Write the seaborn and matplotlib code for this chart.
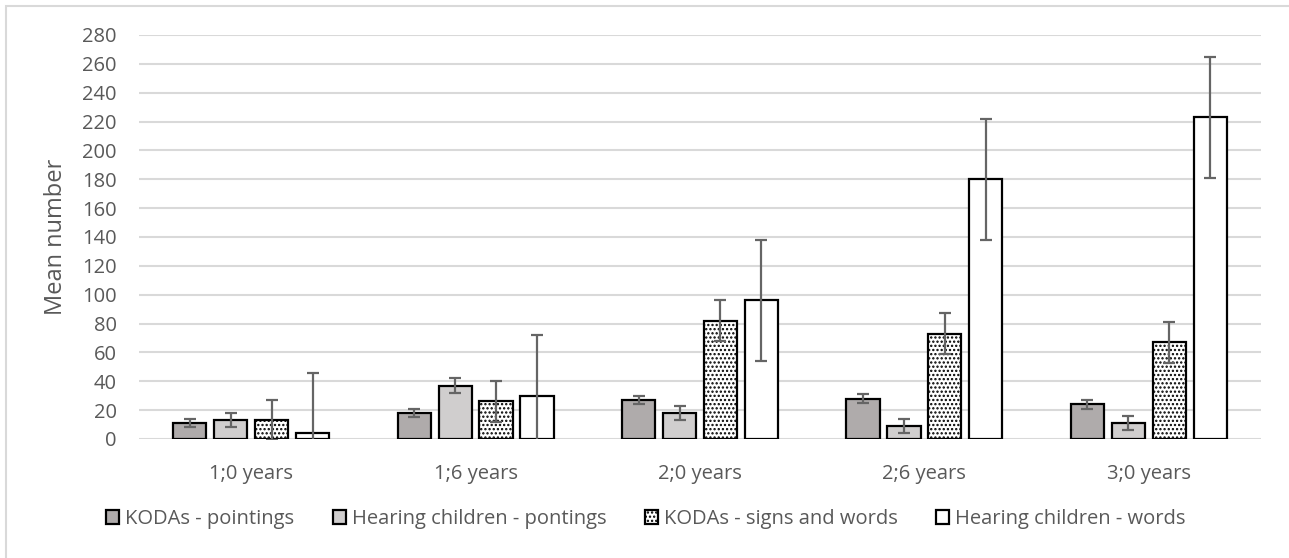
import matplotlib
matplotlib.use("Agg")
import matplotlib.pyplot as plt
import seaborn as sns
import pandas as pd
import numpy as np

categories = ["1;0 years", "1;6 years", "2;0 years", "2;6 years", "3;0 years"]
series = ["KODAs - pointings", "Hearing children - pontings",
          "KODAs - signs and words", "Hearing children - words"]
koda_point = [11, 18, 27, 28, 24]
hear_point = [13, 37, 18, 9, 11]
koda_signs = [13, 26, 82, 73, 67]
hear_words = [4, 30, 96, 180, 223]
errors = [3, 5, 14, 42]
y_ticks = list(range(0, 281, 20))

values = [koda_point, hear_point, koda_signs, hear_words]
rows = []
for s, vals in zip(series, values):
    for c, v in zip(categories, vals):
        rows.append({"age": c, "series": s, "value": v})
df = pd.DataFrame(rows)

sns.set_theme(style="white")
plt.rcParams["font.family"] = ["Open Sans", "DejaVu Sans"]
plt.rcParams["hatch.linewidth"] = 1.1
plt.rcParams["hatch.color"] = "black"

fills = ["#AFABAB", "#D0CECE", "#FFFFFF", "#FFFFFF"]
text_col = "#595959"
HATCH = "...."

fig = plt.figure(figsize=(12.89, 5.58), dpi=100)
ax = fig.add_axes([139/1289, 1 - 439/558, 1122/1289, 404/558])

sns.barplot(data=df, x="age", y="value", hue="series", order=categories,
            hue_order=series, palette=fills, width=0.73, gap=0.19,
            edgecolor="black", linewidth=1.6, errorbar=None, ax=ax,
            saturation=1, zorder=3)

bar_containers = list(ax.containers)
for i, cont in enumerate(bar_containers):
    for j, p in enumerate(cont.patches):
        if i == 2:
            p.set_hatch(HATCH)
        xc = p.get_x() + p.get_width() / 2
        ax.errorbar(xc, values[i][j], yerr=errors[i], color="#656565",
                    elinewidth=1.6, capsize=4.6, capthick=1.6, zorder=4,
                    fmt="none")

ax.set_ylim(0, 280)
ax.set_xlim(-0.5, len(categories) - 0.5)
ax.set_yticks(y_ticks)
ax.yaxis.grid(True, color="#D9D9D9", linewidth=1.5, zorder=0)
ax.set_axisbelow(True)
for sp in ax.spines.values():
    sp.set_visible(False)
ax.tick_params(axis="both", length=0, labelsize=14.5, labelcolor=text_col)
ax.tick_params(axis="y", pad=16)
ax.tick_params(axis="x", pad=18)
ax.set_xlabel("")
ax.set_ylabel("Mean number", fontsize=17, color=text_col, labelpad=10)

handles, labels = ax.get_legend_handles_labels()
if ax.get_legend() is not None:
    ax.get_legend().remove()
for h in handles:
    h.set_linewidth(1.6)
handles[2].set_hatch(HATCH)
fig.legend(handles, labels, loc="center", bbox_to_anchor=(646/1289, 1 - 519/558),
           ncol=4, frameon=False, fontsize=14.5, labelcolor=text_col,
           handlelength=0.65, handleheight=0.65, handletextpad=0.3,
           columnspacing=1.9)

border = plt.Rectangle((6/1289, -0.05), 1.1, 1 - 6/558 + 0.05, transform=fig.transFigure,
                       fill=False, edgecolor="#D9D9D9", linewidth=1.5)
fig.add_artist(border)

fig.savefig("out.png", dpi=100)
